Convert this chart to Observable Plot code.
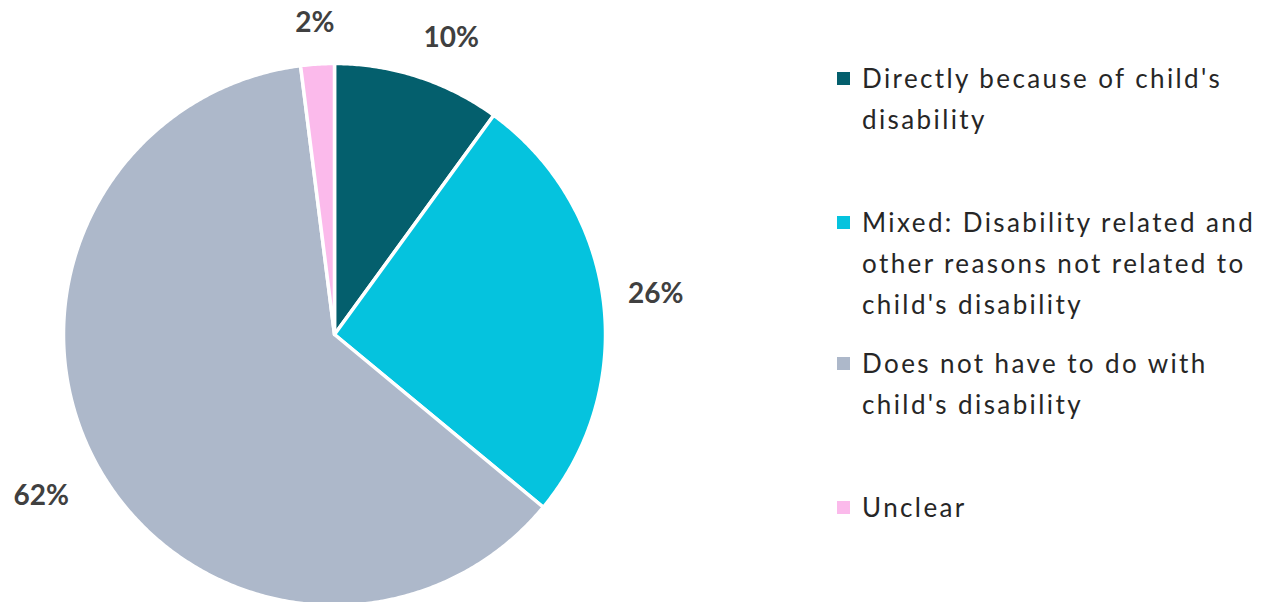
<!DOCTYPE html>
<html><head><meta charset="utf-8">
<script src="https://cdn.jsdelivr.net/npm/d3@7"></script>
<script src="https://cdn.jsdelivr.net/npm/@observablehq/plot@0.6"></script>
<style>
html,body{margin:0;padding:0;background:#fff;}
#wrap{position:relative;width:1274px;height:602px;overflow:hidden;}
#wrap svg{position:absolute;left:0;top:0;}
.item{position:absolute;left:837px;font-family:Lato,"Open Sans",sans-serif;font-size:26px;line-height:41px;color:#262626;letter-spacing:2.4px;}
.sw{position:absolute;left:0;width:13px;height:13px;}
.txt{position:absolute;left:25px;white-space:nowrap;}
</style></head><body><div id="wrap"></div>
<script>
const categories = ["Directly because of child's disability","Mixed: Disability related and other reasons not related to child's disability","Does not have to do with child's disability","Unclear"];
const legendLines = [["Directly because of child's","disability"],["Mixed: Disability related and","other reasons not related to","child's disability"],["Does not have to do with","child's disability"],["Unclear"]];
const values = [10, 26, 62, 2];
const valueLabels = ["10%", "26%", "62%", "2%"];
const colors = ["#045f6d", "#05c3de", "#adb8ca", "#fbbaeb"];

// layout
const cx = 334, cy = 334, R = 271;
const labelLayout = [{da: 3.5, k: 1.175}, {da: 0, k: 1.195}, {da: 0, k: 1.235}, {da: 0, k: 1.15}];
const legendTops = [78, 222, 363, 507];

const arcs = d3.pie().sort(null).value(d => d)(values);
const slicePts = [];
arcs.forEach((a, i) => {
  slicePts.push({cat: categories[i], x: 0, y: 0});
  const n = Math.max(8, Math.ceil((a.endAngle - a.startAngle) * 120));
  for (let j = 0; j <= n; j++) {
    const t = a.startAngle + (a.endAngle - a.startAngle) * j / n;
    slicePts.push({cat: categories[i], x: Math.sin(t), y: Math.cos(t)});
  }
  slicePts.push({cat: categories[i], x: 0, y: 0});
});
const labelData = arcs.map((a, i) => {
  const m = (a.startAngle + a.endAngle) / 2 + labelLayout[i].da * Math.PI / 180;
  return {text: valueLabels[i], x: labelLayout[i].k * Math.sin(m), y: labelLayout[i].k * Math.cos(m)};
});

const chart = Plot.plot({
  width: 1274, height: 602,
  margin: 0,
  x: {domain: [-1, 1], range: [cx - R, cx + R], axis: null},
  y: {domain: [-1, 1], range: [cy + R, cy - R], axis: null},
  color: {domain: categories, range: colors},
  style: {background: "transparent"},
  marks: [
    Plot.line(slicePts, {x: "x", y: "y", z: "cat", fill: "cat", stroke: "#fff", strokeWidth: 3.5, strokeLinejoin: "round", curve: "linear"}),
    Plot.text(labelData, {x: "x", y: "y", text: "text", fill: "#404040", fontSize: 28, fontWeight: "bold", fontFamily: "Lato, 'Open Sans', sans-serif"})
  ]
});
const wrap = document.getElementById("wrap");
wrap.appendChild(chart);

legendLines.forEach((lines, i) => {
  const item = document.createElement("div");
  item.className = "item";
  item.style.top = (legendTops[i] - 20.5) + "px";
  const sw = document.createElement("div");
  sw.className = "sw";
  sw.style.background = colors[i];
  sw.style.top = (20.5 - 6) + "px";
  item.appendChild(sw);
  const t = document.createElement("div");
  t.className = "txt";
  t.style.top = "0px";
  t.innerHTML = lines.map(l => l.replace(/&/g, "&amp;").replace(/</g, "&lt;")).join("<br>");
  item.appendChild(t);
  wrap.appendChild(item);
});
</script>
</body></html>
